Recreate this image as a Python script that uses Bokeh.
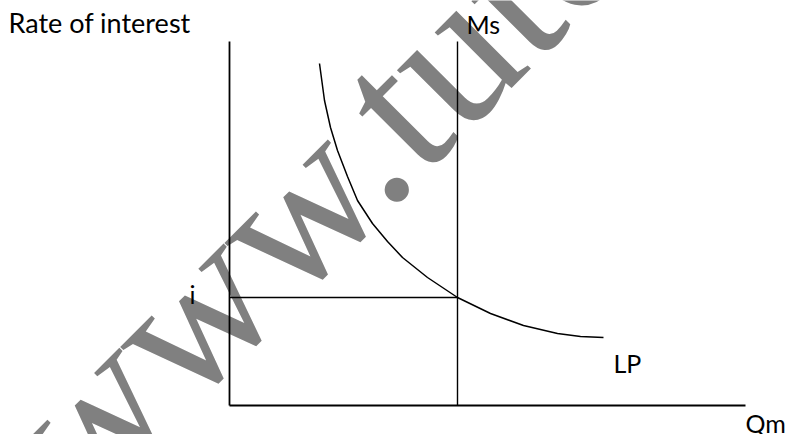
import math
from bokeh.plotting import figure
from bokeh.models import Range1d
from bokeh.core.properties import value
from bokeh.embed import file_html
from bokeh.resources import INLINE

# ---- data (quantity of money vs rate of interest, arbitrary units) ----
qm_axis_max = 516          # length of the Qm axis
rate_axis_max = 364        # height of the rate-of-interest axis
ms_quantity = 228          # fixed money supply Ms
equilibrium_rate = 108     # equilibrium rate i

lp_qm = [90, 95, 101, 108, 118, 128, 143, 158, 173, 198, 228, 261, 294, 328, 351, 374]
lp_rate = [342, 305, 278, 255, 229, 205, 182, 164, 148, 128, 108, 92, 80, 72, 69, 68]

labels = ["Rate of interest", "Ms", "i", "LP", "Qm"]

W, H = 785, 434
OX, OY = 229, 405   # pixel position of the origin
p = figure(width=W, height=H, output_backend="svg", toolbar_location=None,
           x_range=Range1d(-OX, W - OX), y_range=Range1d(-(H - OY), OY),
           min_border=0)
p.xaxis.visible = False
p.yaxis.visible = False
p.grid.visible = False
p.outline_line_color = None
p.background_fill_color = "white"
p.border_fill_color = "white"

# watermark
wm_font = value("Liberation Serif")
ang = math.radians(45)
wx, wy = 372 - OX, OY - 129
p.text(x=[wx], y=[wy], text=["www."], angle=ang, text_font=wm_font,
       text_font_size="204px", text_color="#808080",
       text_align="right", text_baseline="alphabetic")
p.text(x=[wx], y=[wy], text=["tutorsglobe.com"], angle=ang, text_font=wm_font,
       text_font_size="204px", text_color="#808080",
       text_align="left", text_baseline="alphabetic")

# axes
p.line(x=[0, 0], y=[0, rate_axis_max], line_color="black", line_width=1.8)
p.line(x=[0, qm_axis_max], y=[0, 0], line_color="black", line_width=1.8)
# money supply
p.line(x=[ms_quantity, ms_quantity], y=[0, rate_axis_max], line_color="black", line_width=1.4)
# equilibrium rate
p.line(x=[0, ms_quantity], y=[equilibrium_rate, equilibrium_rate], line_color="black", line_width=1.6)
# liquidity preference
p.line(x=lp_qm, y=lp_rate, line_color="black", line_width=1.5)

font = value("Lato")
fs = "25px"
p.text(x=[-221], y=[383], text=[labels[0]], text_font=font, text_font_size="27px",
       text_color="black", text_baseline="alphabetic")
p.text(x=[237], y=[382], text=[labels[1]], text_font=font, text_font_size=fs,
       text_color="black", text_baseline="alphabetic")
p.text(x=[-40], y=[112], text=[labels[2]], text_font=font, text_font_size=fs,
       text_color="black", text_baseline="alphabetic")
p.text(x=[384], y=[43], text=[labels[3]], text_font=font, text_font_size=fs,
       text_color="black", text_baseline="alphabetic")
p.text(x=[516], y=[-17], text=[labels[4]], text_font=font, text_font_size=fs,
       text_color="black", text_baseline="alphabetic")

open("out.html", "w").write(file_html(p, INLINE))
